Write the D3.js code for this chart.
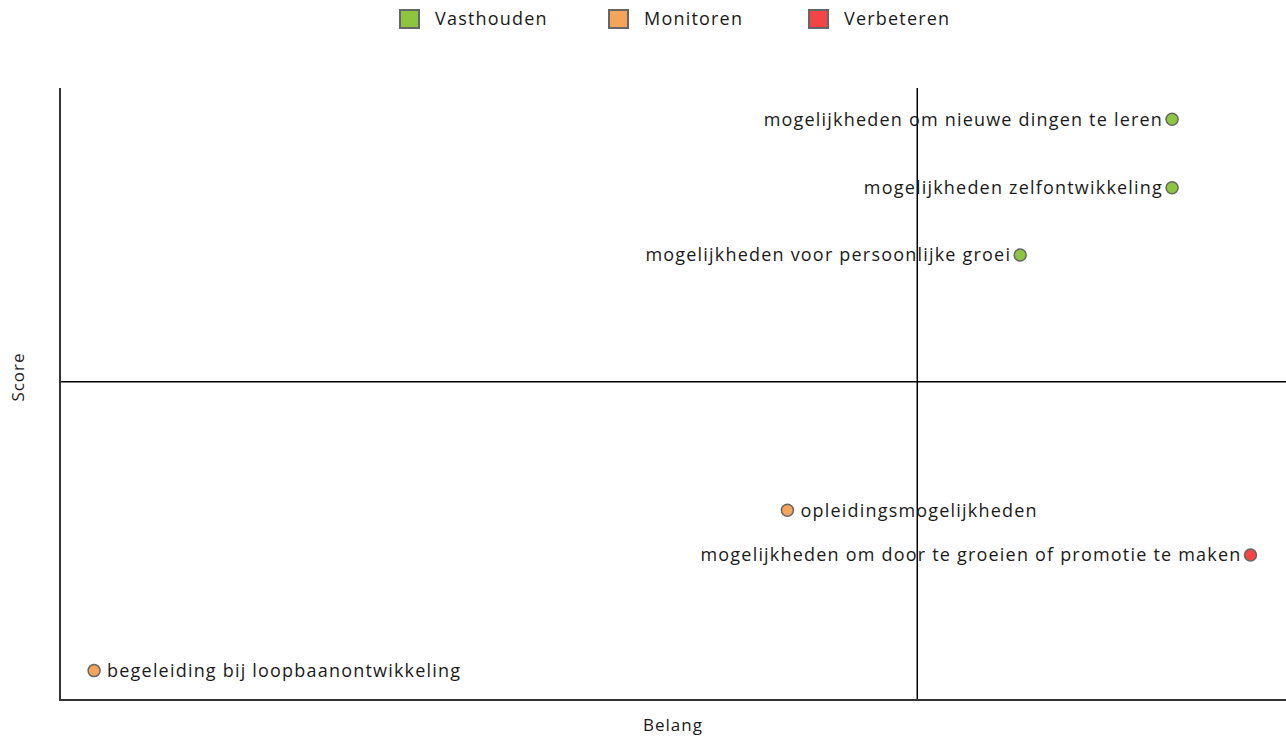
<!DOCTYPE html>
<html><head><meta charset="utf-8">
<script src="https://cdn.jsdelivr.net/npm/d3@7"></script>
<style>body{margin:0;background:#fff;font-family:"Open Sans",sans-serif;}</style>
</head><body><svg id="c" width="1286" height="737"></svg>
<script>
const labels = ["mogelijkheden om nieuwe dingen te leren","mogelijkheden zelfontwikkeling","mogelijkheden voor persoonlijke groei","opleidingsmogelijkheden","mogelijkheden om door te groeien of promotie te maken","begeleiding bij loopbaanontwikkeling"];
const belang = [90.7, 90.7, 78.3, 59.3, 97.1, 2.7];
const score = [94.9, 83.7, 72.7, 31.0, 23.7, 4.8];
const groups = ["Vasthouden","Vasthouden","Vasthouden","Monitoren","Verbeteren","Monitoren"];
const labelSide = ["left","left","left","right","left","right"];
const legendNames = ["Vasthouden","Monitoren","Verbeteren"];
const legendColors = ["#8cc63f","#f5a55a","#f44444"];
const meanBelang = 69.9, meanScore = 52.0;

const svg = d3.select("#c");
const m = {l:61, r:1286, t:88, b:700};
const x = d3.scaleLinear().domain([0,100]).range([m.l, m.r]);
const y = d3.scaleLinear().domain([0,100]).range([m.b, m.t]);
const color = d3.scaleOrdinal().domain(legendNames).range(legendColors);
const ls = 1.2;

// quadrant lines
svg.append("line").attr("x1",x(meanBelang)).attr("x2",x(meanBelang)).attr("y1",m.t).attr("y2",m.b).attr("stroke","#000").attr("stroke-width",1.5);
svg.append("line").attr("x1",m.l).attr("x2",m.r).attr("y1",y(meanScore)).attr("y2",y(meanScore)).attr("stroke","#000").attr("stroke-width",1.5);
// axes lines
svg.append("line").attr("x1",m.l-1).attr("x2",m.l-1).attr("y1",m.t).attr("y2",m.b+1).attr("stroke","#333").attr("stroke-width",2);
svg.append("line").attr("x1",m.l-2).attr("x2",m.r).attr("y1",m.b).attr("y2",m.b).attr("stroke","#333").attr("stroke-width",2);

const data = labels.map((d,i)=>({label:d,x:belang[i],y:score[i],g:groups[i],side:labelSide[i]}));
const pts = svg.append("g").selectAll("g").data(data).join("g")
  .attr("transform",d=>`translate(${x(d.x)},${y(d.y)})`);
pts.append("circle").attr("r",6).attr("fill",d=>color(d.g)).attr("stroke","#666").attr("stroke-width",1.5);
pts.append("text").text(d=>d.label)
  .attr("x",d=>d.side==="left"?-9:13).attr("dy","0.35em")
  .attr("text-anchor",d=>d.side==="left"?"end":"start")
  .attr("font-size",18).attr("letter-spacing",ls).attr("fill","#1a1a1a");

// axis titles
svg.append("text").text("Belang").attr("x",673).attr("y",731).attr("text-anchor","middle").attr("font-size",17).attr("letter-spacing",1).attr("fill","#1a1a1a");
svg.append("text").text("Score").attr("transform","translate(24,377) rotate(-90)").attr("text-anchor","middle").attr("font-size",17).attr("letter-spacing",1).attr("fill","#1a1a1a");

// legend
const legX = [400, 609, 809];
const leg = svg.append("g").selectAll("g").data(legendNames).join("g")
  .attr("transform",(d,i)=>`translate(${legX[i]},19)`);
leg.append("rect").attr("x",0).attr("y",-9).attr("width",19).attr("height",18).attr("fill",d=>color(d)).attr("stroke","#666").attr("stroke-width",2);
leg.append("text").text(d=>d).attr("x",35).attr("dy","0.35em").attr("font-size",18).attr("letter-spacing",ls).attr("fill","#1a1a1a");
</script></body></html>
